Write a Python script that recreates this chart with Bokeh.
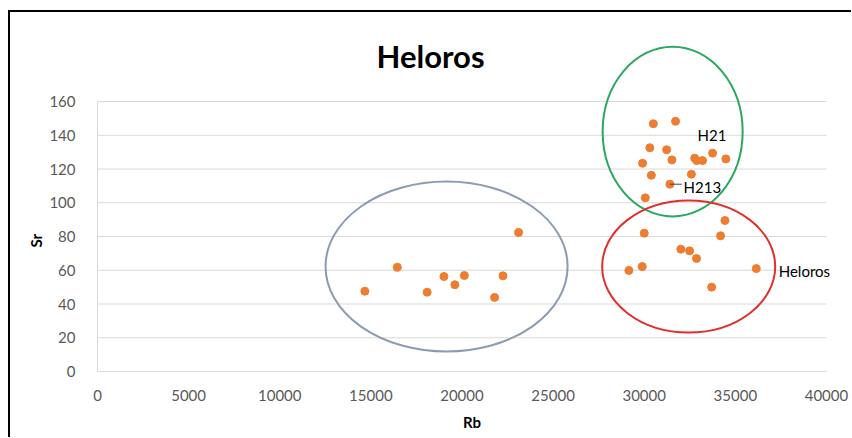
from bokeh.plotting import figure
from bokeh.models import FixedTicker, Label, Range1d, Title
from bokeh.embed import file_html
from bokeh.resources import INLINE

# ---- data ----
rb_other = [14670, 16450, 18090, 19010, 19610, 20130, 21790, 22250, 23110]
sr_other = [47.6, 61.8, 47.0, 56.3, 51.4, 56.9, 43.9, 56.7, 82.4]

rb_heloros = [30500, 31720, 30310, 31230, 29910, 31520, 32770, 32880, 33200, 33750,
              34480, 30390, 32590, 31410, 30060,
              34430, 30000, 34190, 32010, 32490, 32870, 29160, 29890, 36150, 33700]
sr_heloros = [146.8, 148.3, 132.6, 131.4, 123.4, 125.4, 126.4, 125.0, 125.0, 129.4,
              126.0, 116.3, 116.9, 111.0, 102.9,
              89.5, 82.0, 80.4, 72.5, 71.5, 67.0, 59.9, 62.2, 61.0, 50.0]

group_x = [19155, 31560, 32440]
group_y = [62.2, 142.2, 62.2]
group_w = [13282, 7684, 9495]
group_h = [100.7, 100.7, 78.2]
group_colors = ["#8c9cb0", "#2aa860", "#e0302c"]

note_text = ["H21", "H213", "Heloros"]
note_x = [32930, 32160, 37380]
note_y = [140.4, 109.6, 59.3]

y_ticks = [0, 20, 40, 60, 80, 100, 120, 140, 160]
x_ticks = [0, 5000, 10000, 15000, 20000, 25000, 30000, 35000, 40000]

FONT = "Lato"
TICK_COLOR = "#595959"
LINE_COLOR = "#d9d9d9"

p = figure(frame_width=749, frame_height=331, output_backend="svg", toolbar_location=None,
           title=None, x_range=Range1d(0, 41100), y_range=Range1d(0, 196.15),
           min_border_left=87, min_border_right=5, min_border_top=28,
           min_border_bottom=66)
p.outline_line_color = None
p.background_fill_color = "white"
p.border_fill_color = "white"
p.styles = {"border-left": "2px solid black", "border-top": "2px solid black",
            "border-right": "none", "border-bottom": "none",
            "margin-left": "8px", "margin-top": "10px"}

# axes
p.xaxis.ticker = FixedTicker(ticks=x_ticks)
p.yaxis.ticker = FixedTicker(ticks=y_ticks)
p.xaxis.bounds = (x_ticks[0], x_ticks[-1])
p.yaxis.bounds = (y_ticks[0], y_ticks[-1])
for ax in (p.xaxis[0], p.yaxis[0]):
    ax.axis_line_color = LINE_COLOR
    ax.major_tick_line_color = None
    ax.minor_tick_line_color = None
    ax.major_label_text_font = FONT
    ax.major_label_text_font_size = "15px"
    ax.major_label_text_color = TICK_COLOR
p.xaxis.major_label_standoff = 12
p.yaxis.major_label_standoff = 16
p.xaxis.axis_label = "Rb"
p.xaxis.axis_label_text_font = FONT
p.xaxis.axis_label_text_font_style = "bold"
p.xaxis.axis_label_text_font_size = "15px"
p.xaxis.axis_label_text_color = "black"
p.xaxis.axis_label_standoff = 9

# y axis title, centred on the 0-160 span
p.add_layout(Title(text="Sr", align="left", offset=124, standoff=3, text_font=FONT,
                   text_font_style="bold", text_font_size="15px", text_color="black"),
             "left")

# horizontal grid lines limited to the 0-40000 span
p.xgrid.grid_line_color = None
p.ygrid.grid_line_color = None
p.segment(x0=[x_ticks[0]] * (len(y_ticks) - 1), y0=y_ticks[1:],
          x1=[x_ticks[-1]] * (len(y_ticks) - 1), y1=y_ticks[1:],
          line_color=LINE_COLOR, line_width=1, level="underlay")

# group ellipses
p.ellipse(x=group_x, y=group_y, width=group_w, height=group_h,
          fill_color=None, line_color=group_colors, line_width=2)

# points
p.scatter(rb_other, sr_other, size=8, color="#ed7d31")
p.scatter(rb_heloros, sr_heloros, size=8, color="#ed7d31")

# leader line for H213
p.segment(x0=[rb_heloros[13]], y0=[sr_heloros[13]], x1=[note_x[1] - 100], y1=[sr_heloros[13]],
          line_color="#404040", line_width=1)

for t, x, y in zip(note_text, note_x, note_y):
    p.add_layout(Label(x=x, y=y, text=t, text_font=FONT, text_font_size="15px",
                       text_color="black", text_baseline="middle", text_align="left"))

# chart title
p.add_layout(Label(x=333, x_units="screen", y=316, y_units="screen", text="Heloros",
                   text_font=FONT, text_font_style="bold", text_font_size="31px",
                   text_color="black", text_align="center", text_baseline="middle"))

open("out.html", "w").write(file_html(p, INLINE))
